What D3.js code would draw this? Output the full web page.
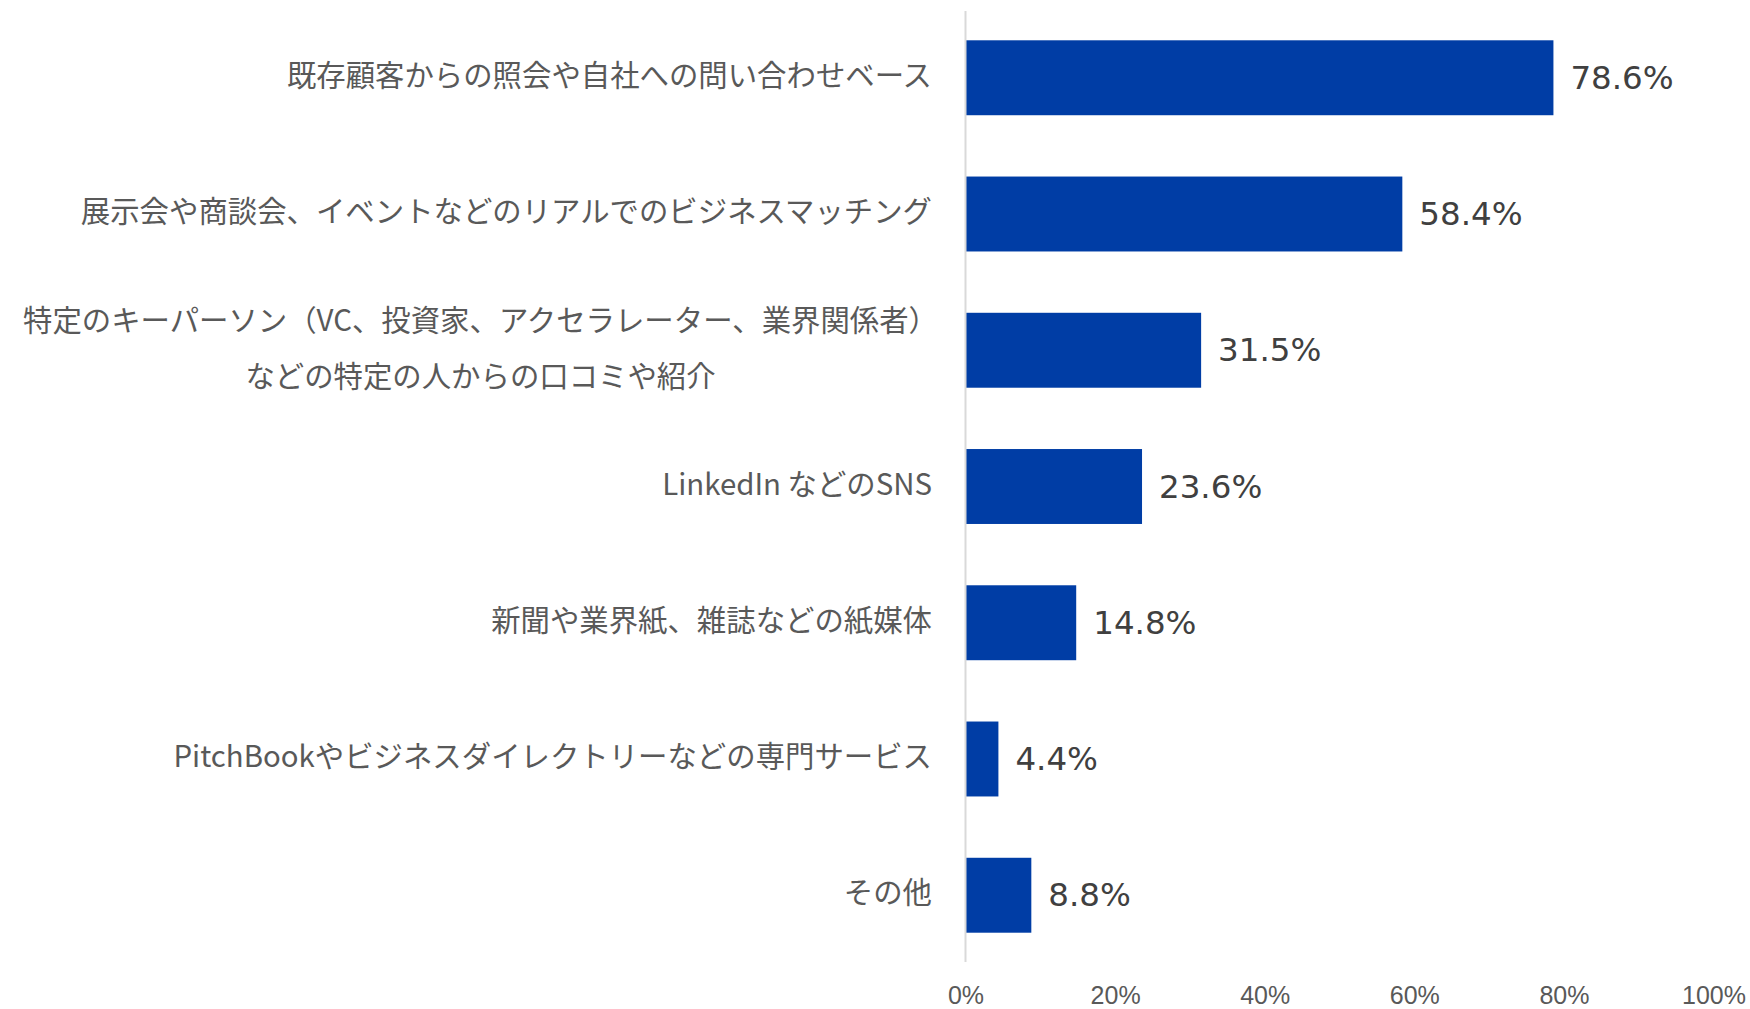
<!DOCTYPE html>
<html><head><meta charset="utf-8">
<script src="https://cdn.jsdelivr.net/npm/d3@7"></script>
<style>html,body{margin:0;padding:0;background:#fff;}</style>
</head><body>
<svg id="chart" width="1750" height="1009"></svg>
<script>
const categories = [
  ["既存顧客からの照会や自社への問い合わせベース"],
  ["展示会や商談会、イベントなどのリアルでのビジネスマッチング"],
  ["特定のキーパーソン（VC、投資家、アクセラレーター、業界関係者）", "などの特定の人からの口コミや紹介"],
  ["LinkedIn などのSNS"],
  ["新聞や業界紙、雑誌などの紙媒体"],
  ["PitchBookやビジネスダイレクトリーなどの専門サービス"],
  ["その他"]
];
const values = [78.6, 58.4, 31.5, 23.6, 14.8, 4.4, 8.8];
const tickValues = [0, 20, 40, 60, 80, 100];
const tickLabels = ["0%", "20%", "40%", "60%", "80%", "100%"];

const svg = d3.select("#chart");
const x0 = 965.5, x1 = 1713.5, yTop = 11, yBot = 962;
const x = d3.scaleLinear().domain([0, 100]).range([x0, x1]);
const y = d3.scaleBand().domain(d3.range(categories.length)).range([yTop, yBot]).paddingInner(0.45).paddingOuter(0.215);

svg.selectAll("rect.bar").data(values).join("rect")
  .attr("class", "bar")
  .attr("x", x(0))
  .attr("y", (d, i) => y(i))
  .attr("width", d => x(d) - x(0))
  .attr("height", y.bandwidth())
  .attr("fill", "#003DA5");

svg.append("line").attr("x1", x0).attr("x2", x0).attr("y1", yTop).attr("y2", yBot)
  .attr("stroke", "#d9d9d9").attr("stroke-width", 2);

svg.selectAll("text.val").data(values).join("text")
  .attr("class", "val")
  .attr("x", d => x(d) + 17)
  .attr("y", (d, i) => y(i) + y.bandwidth() / 2)
  .attr("dominant-baseline", "central")
  .attr("font-family", "'DejaVu Sans', Verdana, sans-serif")
  .attr("font-size", 32.5)
  .attr("fill", "#404040")
  .text(d => d.toFixed(1) + "%");

const axis = d3.axisBottom(x).tickValues(tickValues).tickFormat((d, i) => tickLabels[i]).tickSize(0);
const ax = svg.append("g").attr("transform", `translate(0,${yBot})`).call(axis);
ax.select(".domain").remove();
ax.selectAll("text").attr("font-family", "'Liberation Sans', Arial, sans-serif").attr("font-size", 25)
  .attr("fill", "#595959").attr("y", 42).attr("dy", 0);

const labelX = 932;
const fs = 29.4;
categories.forEach((lines, i) => {
  const cy = y(i) + y.bandwidth() / 2 - 5;
  const g = svg.append("g");
  if (lines.length === 1) {
    g.append("text").attr("x", labelX).attr("y", cy)
      .attr("text-anchor", "end").attr("dominant-baseline", "central")
      .attr("font-family", "'Noto Sans CJK JP', sans-serif").attr("font-size", fs)
      .attr("fill", "#595959").text(lines[0]);
  } else {
    const t1 = g.append("text").attr("x", labelX + 6).attr("y", cy - 27)
      .attr("text-anchor", "end").attr("dominant-baseline", "central")
      .attr("font-family", "'Noto Sans CJK JP', sans-serif").attr("font-size", fs)
      .attr("fill", "#595959").text(lines[0]);
    const w = t1.node().getComputedTextLength();
    g.append("text").attr("x", labelX + 6 - w / 2).attr("y", cy + 29)
      .attr("text-anchor", "middle").attr("dominant-baseline", "central")
      .attr("font-family", "'Noto Sans CJK JP', sans-serif").attr("font-size", fs)
      .attr("fill", "#595959").text(lines[1]);
  }
});
</script>
</body></html>
